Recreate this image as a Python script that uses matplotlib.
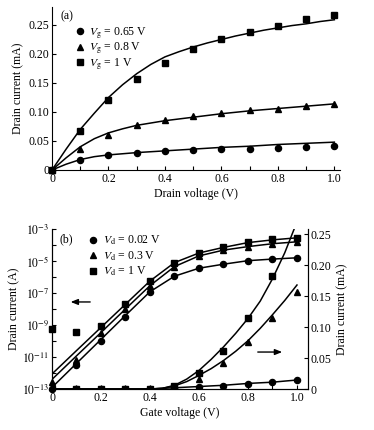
import numpy as np
import matplotlib
matplotlib.use("Agg")
import matplotlib.pyplot as plt
from matplotlib.lines import Line2D
from matplotlib.ticker import FixedLocator, FuncFormatter

plt.rcParams["font.family"] = ["Liberation Serif", "DejaVu Serif"]
plt.rcParams["mathtext.fontset"] = "stix"
plt.rcParams["font.size"] = 8.5

# ---- panel (a): output characteristics ----
vd = [0, 0.1, 0.2, 0.3, 0.4, 0.5, 0.6, 0.7, 0.8, 0.9, 1.0]
id_vg065 = [0, 0.018, 0.026, 0.030, 0.032, 0.034, 0.036, 0.036, 0.038, 0.0395, 0.041]
id_vg08 = [0, 0.036, 0.061, 0.077, 0.086, 0.093, 0.099, 0.103, 0.106, 0.110, 0.1135]
id_vg1 = [0, 0.0665, 0.120, 0.157, 0.185, 0.208, 0.225, 0.238, 0.249, 0.260, 0.267]

vd_fit = [0, 0.05, 0.1, 0.15, 0.2, 0.25, 0.3, 0.35, 0.4, 0.45, 0.5,
          0.55, 0.6, 0.65, 0.7, 0.75, 0.8, 0.85, 0.9, 0.95, 1.0]
fit_vg065 = [0, 0.010, 0.018, 0.023, 0.026, 0.028, 0.030, 0.0315, 0.033, 0.0345, 0.036,
             0.0375, 0.039, 0.040, 0.041, 0.0425, 0.044, 0.045, 0.046, 0.047, 0.048]
fit_vg08 = [0, 0.021, 0.040, 0.054, 0.064, 0.071, 0.077, 0.081, 0.085, 0.088, 0.091,
            0.094, 0.097, 0.0995, 0.102, 0.104, 0.106, 0.108, 0.110, 0.112, 0.114]
fit_vg1 = [0, 0.036, 0.070, 0.098, 0.125, 0.147, 0.166, 0.182, 0.195, 0.204, 0.212,
           0.219, 0.225, 0.231, 0.236, 0.241, 0.245, 0.249, 0.252, 0.256, 0.259]

# ---- panel (b): transfer characteristics ----
vg = [0, 0.1, 0.2, 0.3, 0.4, 0.5, 0.6, 0.7, 0.8, 0.9, 1.0]
# log10 of drain current (A)
log_vd002 = [-13.0, -11.5, -9.98, -8.48, -6.92, -5.92, -5.46, -5.19, -4.98, -4.87, -4.79]
log_vd03 = [-12.54, -11.19, -9.52, -8.02, -6.54, -5.35, -4.67, -4.31, -4.10, -3.92, -3.79]
log_vd1 = [-9.25, -9.42, -9.06, -7.67, -6.25, -5.10, -4.52, -4.15, -3.83, -3.65, -3.54]
logfit_vd002 = [-12.9, -11.4, -9.9, -8.4, -6.92, -5.95, -5.45, -5.2, -4.98, -4.88, -4.8]
logfit_vd03 = [-12.4, -10.93, -9.47, -8.0, -6.54, -5.35, -4.68, -4.32, -4.10, -3.92, -3.8]
logfit_vd1 = [-12.06, -10.6, -9.15, -7.7, -6.25, -5.1, -4.5, -4.15, -3.85, -3.68, -3.55]
# linear drain current (mA)
lin_vd002 = [0, 0, 0, 0, 0, 0.002, 0.003, 0.0055, 0.0081, 0.0113, 0.0146]
lin_vd03 = [0, 0, 0, 0, 0, 0.003, 0.0166, 0.042, 0.0756, 0.1145, 0.157]
lin_vd1 = [0, 0, 0, 0, 0, 0.005, 0.0257, 0.061, 0.114, 0.1825, 0.267]
vg_fit = [0, 0.4, 0.45, 0.5, 0.55, 0.6, 0.65, 0.7, 0.75, 0.8, 0.85, 0.9, 0.95, 1.0]
linfit_vd002 = [0, 0, 0.001, 0.002, 0.003, 0.004, 0.005, 0.006, 0.0075, 0.009, 0.010, 0.011, 0.0128, 0.0145]
linfit_vd03 = [0, 0, 0.001, 0.005, 0.012, 0.022, 0.033, 0.046, 0.061, 0.078, 0.098, 0.120, 0.143, 0.168]
linfit_vd1 = [0, 0, 0.001, 0.006, 0.016, 0.030, 0.048, 0.068, 0.090, 0.114, 0.142, 0.178, 0.220, 0.270]

lab_a = [r"$V_{\rm g}$ = 0.65 V", r"$V_{\rm g}$ = 0.8 V", r"$V_{\rm g}$ = 1 V"]
lab_b = [r"$V_{\rm d}$ = 0.02 V", r"$V_{\rm d}$ = 0.3 V", r"$V_{\rm d}$ = 1 V"]
markers = ["o", "^", "s"]

MS = 4.4
LW = 1.1

W, H = 374, 430
fig = plt.figure(figsize=(W / 100, H / 100), dpi=100)


def frac(x0, y0, x1, y1):
    return [x0 / W, 1 - y1 / H, (x1 - x0) / W, (y1 - y0) / H]


def style_ticks(ax):
    ax.tick_params(direction="in", length=3, width=0.8, pad=2, labelsize=8.5)


# panel (a)
ax1 = fig.add_axes(frac(52, 7, 340, 170))
for y, f, m in zip([id_vg065, id_vg08, id_vg1], [fit_vg065, fit_vg08, fit_vg1], markers):
    ax1.plot(vd_fit, f, color="black", lw=LW)
    ax1.plot(vd, y, ls="none", marker=m, color="black", ms=MS, clip_on=False)
ax1.set_xlim(0, 1.02)
ax1.set_ylim(0, 0.281)
ax1.spines[["top", "right"]].set_visible(False)
ax1.set_xticks(np.arange(0, 1.01, 0.1))
ax1.set_xticklabels(["0", "", "0.2", "", "0.4", "", "0.6", "", "0.8", "", "1.0"])
ax1.set_yticks(np.arange(0, 0.26, 0.05))
ax1.set_yticklabels(["0", "0.05", "0.10", "0.15", "0.20", "0.25"])
style_ticks(ax1)
ax1.set_xlabel("Drain voltage (V)", labelpad=2)
ax1.set_ylabel("Drain current (mA)", labelpad=3)
ax1.text(0.028, 0.94, "(a)", transform=ax1.transAxes, va="center", ha="left")
handles = [Line2D([], [], ls="none", marker=m, color="black", ms=MS) for m in markers]
ax1.legend(handles, lab_a, loc="upper left", bbox_to_anchor=(0.075, 0.887), frameon=False,
           borderpad=0, borderaxespad=0, handlelength=1, handletextpad=0.3,
           labelspacing=0.0, fontsize=8.5)

# panel (b)
ax2 = fig.add_axes(frac(52, 229, 308, 389))
for y, f, m in zip([log_vd002, log_vd03, log_vd1],
                   [logfit_vd002, logfit_vd03, logfit_vd1], markers):
    ax2.plot(vg, 10.0 ** np.array(f), color="black", lw=LW)
    ax2.plot(vg, 10.0 ** np.array(y), ls="none", marker=m, color="black", ms=MS, clip_on=False)
ax2.set_yscale("log")
ax2.set_ylim(1e-13, 1e-3)
ax2.set_xlim(0, 1.045)
ax2.spines["top"].set_visible(False)
ax2.yaxis.set_major_locator(FixedLocator([10.0 ** k for k in range(-13, -2)]))
ax2.yaxis.set_minor_locator(FixedLocator([]))
ax2.yaxis.set_major_formatter(FuncFormatter(
    lambda v, p: r"$10^{%d}$" % round(np.log10(v)) if round(np.log10(v)) % 2 else ""))
ax2.set_xticks(np.arange(0, 1.01, 0.1))
ax2.set_xticklabels(["0", "", "0.2", "", "0.4", "", "0.6", "", "0.8", "", "1.0"])
style_ticks(ax2)
ax2.set_xlabel("Gate voltage (V)", labelpad=2)
ax2.set_ylabel("Drain current (A)", labelpad=1)

ax3 = ax2.twinx()
for y, f, m in zip([lin_vd002, lin_vd03, lin_vd1],
                   [linfit_vd002, linfit_vd03, linfit_vd1], markers):
    ax3.plot(vg_fit, f, color="black", lw=LW)
    ax3.plot(vg, y, ls="none", marker=m, color="black", ms=MS)
ax3.set_ylim(0, 0.2585)
ax3.set_xlim(0, 1.045)
ax3.spines["top"].set_visible(False)
ax3.set_yticks(np.arange(0, 0.26, 0.05))
ax3.set_yticklabels(["0", "0.05", "0.10", "0.15", "0.20", "0.25"])
style_ticks(ax3)
ax3.set_ylabel("Drain current (mA)", labelpad=3)

ax2.text(0.03, 0.9375, "(b)", transform=ax2.transAxes, va="center", ha="left")
ax3.legend(handles, lab_b, loc="upper left", bbox_to_anchor=(0.139, 0.971), frameon=False,
           borderpad=0, borderaxespad=0, handlelength=1, handletextpad=0.3,
           labelspacing=0.17, fontsize=8.5)
arrow = dict(arrowstyle="-|>,head_length=0.5,head_width=0.2", color="black", lw=1.0)
ax2.annotate("", xy=(0.062, 0.544), xytext=(0.16, 0.544), xycoords="axes fraction",
             arrowprops=arrow)
ax2.annotate("", xy=(0.91, 0.231), xytext=(0.793, 0.231), xycoords="axes fraction",
             arrowprops=arrow)

fig.savefig("out.png", dpi=100)
